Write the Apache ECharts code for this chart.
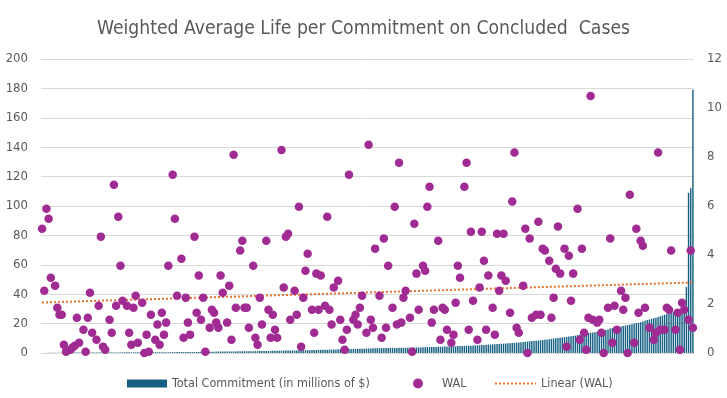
<!DOCTYPE html>
<html>
<head>
<meta charset="utf-8">
<script src="https://cdn.jsdelivr.net/npm/echarts@6/dist/echarts.min.js"></script>
<style>
  html, body { margin: 0; padding: 0; background: #fff; }
  #chart { width: 727px; height: 398px; }
</style>
</head>
<body>
<div id="chart"></div>
<script>
// total commitment per concluded case (millions of $), sorted ascending
const commitment = [
  0.05, 0.06, 0.08, 0.09, 0.1, 0.12, 0.13, 0.15, 0.16, 0.18, 0.2, 0.21, 0.23, 0.25, 0.27,
  0.3, 0.3, 0.31, 0.32, 0.32, 0.33, 0.34, 0.34, 0.35, 0.36, 0.36, 0.37, 0.37, 0.38, 0.39, 0.39,
  0.4, 0.4, 0.41, 0.41, 0.42, 0.42, 0.43, 0.43, 0.44, 0.44, 0.45, 0.45, 0.46, 0.46, 0.47, 0.47,
  0.48, 0.48, 0.49, 0.49, 0.5, 0.5, 0.51, 0.51, 0.52, 0.53, 0.53, 0.54, 0.55, 0.56, 0.58,
  0.6, 0.61, 0.62, 0.63, 0.65, 0.66, 0.68, 0.7, 0.72, 0.74, 0.76, 0.78, 0.8, 0.82, 0.85, 0.88,
  0.9, 0.92, 0.94, 0.96, 0.98, 1.0, 1.0, 1.02, 1.04, 1.06, 1.08, 1.1, 1.12, 1.14, 1.16,
  1.18, 1.2, 1.22, 1.24, 1.26, 1.28, 1.3, 1.32, 1.34, 1.36, 1.39, 1.42, 1.44, 1.47, 1.5,
  1.55, 1.58, 1.6, 1.62, 1.65, 1.68, 1.7, 1.72, 1.75, 1.78, 1.8, 1.83, 1.86, 1.89, 1.92,
  1.95, 1.98, 2.0, 2.04, 2.08, 2.12, 2.16, 2.2, 2.24, 2.27, 2.3,
  2.4, 2.44, 2.48, 2.52, 2.56, 2.6, 2.64, 2.68, 2.72, 2.76, 2.8, 2.84, 2.88, 2.92, 2.96,
  3.0, 3.05, 3.1, 3.15, 3.2,
  3.3, 3.32, 3.34, 3.36, 3.38, 3.4, 3.42, 3.44, 3.46, 3.48, 3.5, 3.52, 3.55, 3.58, 3.6,
  3.63, 3.66, 3.7, 3.74, 3.78, 3.82, 3.86, 3.9, 3.94, 3.97, 4.0,
  4.1, 4.15, 4.2, 4.25, 4.3, 4.35, 4.4, 4.45, 4.5, 4.55, 4.6,
  4.7, 4.75, 4.8, 4.85, 4.9, 4.95, 5.0, 5.05, 5.1, 5.2, 5.3, 5.4, 5.5, 5.6, 5.7, 5.8, 5.9,
  6.0, 6.1, 6.2, 6.3, 6.4, 6.5, 6.6, 6.7, 6.8, 6.9, 7.0, 7.1, 7.25, 7.4, 7.6,
  7.8, 7.95, 8.1, 8.25, 8.4, 8.55, 8.7, 8.85, 9.0, 9.2, 9.4, 9.6,
  9.8, 10.0, 10.2, 10.4, 10.6, 10.8, 11.0, 11.2, 11.4, 11.6, 11.8,
  12.2, 12.5, 12.8, 13.1, 13.4, 13.6, 13.8, 14.0, 14.2, 14.5, 14.8, 15.1, 15.4, 15.7, 16.0,
  16.6, 16.9, 17.2, 17.5, 17.8, 18.1, 18.4, 18.7, 19.0, 19.3, 19.6,
  20.0, 20.3, 20.6, 21.0,
  21.5, 22.0, 22.4, 22.8, 23.2, 23.6, 24.0, 24.5, 25.0, 25.5,
  26.0, 26.5, 27.0, 27.5, 28.0, 28.5, 29.0, 29.5, 30.2, 31.0,
  45, 109, 112, 179
]

// weighted average life (years), same case order; null where no dot can be read
const wal = [
  5.07, 2.54, 5.89, 5.48, 3.07, null, 2.75, 1.85, 1.56, 1.56,
  0.34, 0.05, null, 0.13, 0.22, 0.3, 1.44, 0.42, null, 0.95,
  0.05, 1.44, 2.46, 0.83, null, 0.54, 1.93, 4.75, 0.26, 0.13,
  null, 1.36, 0.83, 6.87, 1.93, 5.56, 3.56, 2.13, null, 1.93,
  0.83, 0.34, 1.85, 2.34, 0.42, null, 2.05, 0, 0.75, 0.05,
  1.56, null, 0.54, 1.16, 0.34, 1.64, 0.75, 1.24, 3.56, null,
  7.28, 5.48, 2.34, null, 3.85, 0.62, 2.26, 1.24, 0.75, null,
  4.75, 1.64, 3.16, 1.36, 2.26, 0.05, null, 1.03, 1.77, 1.64,
  1.24, 1.03, 3.16, 2.46, null, 1.24, 2.75, 0.54, 8.09, 1.85,
  null, 4.18, 4.58, 1.85, 1.85, 1.03, null, 3.56, 0.62, 0.34,
  2.26, 1.16, null, 4.58, 1.77, 0.62, 1.56, 0.95, 0.62, null,
  8.29, 2.67, 4.75, 4.87, 1.36, null, 2.54, 1.56, 5.97, 0.26,
  2.26, 3.36, 4.05, null, 1.77, 0.83, 3.24, 1.77, 3.16, null,
  1.93, 5.56, 1.77, 1.16, 2.67, null, 2.95, 1.36, 0.54, 0.13,
  0.95, 7.28, null, 1.36, 1.56, 1.16, 1.85, 2.34, null, 0.83,
  8.5, 1.36, 1.03, 4.26, null, 2.34, 0.62, 4.67, 1.03, 3.56,
  null, 1.85, 5.97, 1.16, 7.77, 1.24, 2.26, 2.54, null, 1.44,
  0.05, 5.28, 3.24, 1.77, null, 3.56, 3.36, 5.97, 6.79, 1.24,
  1.77, null, 4.58, 0.54, 1.85, 1.77, 0.95, null, 0.42, 0.75,
  2.05, 3.56, 3.07, null, 6.79, 7.77, 0.95, 4.95, 2.13, null,
  0.54, 2.67, 4.95, 3.77, 0.95, 3.16, null, 1.85, 0.75, 4.87,
  2.54, 3.16, 4.87, 2.95, null, 1.64, 6.18, 8.18, 1.03, 0.83,
  null, 2.75, 5.07, 0, 4.67, 1.44, null, 1.56, 5.36, 1.56,
  4.26, 4.18, null, 3.77, 1.44, 2.26, 3.44, 5.16, 3.24, null,
  4.26, 0.26, 3.97, 2.13, 3.24, null, 5.89, 0.54, 4.26, 0.83,
  0.13, 1.44, 10.49, 1.36, null, 1.24, 1.36, 0.83, 0, null,
  1.85, 4.67, 0.42, 1.93, 0.95, null, 2.54, 1.77, 2.26, 0,
  6.46, null, 0.42, 5.07, 1.64, 4.58, 4.38, 1.85, null, 1.03,
  null, 0.54, 0.83, 8.18, 0.95, null, 0.95, 1.85, 1.77, 4.18,
  null, 0.95, 1.64, 0.13, 2.05, 1.77, null, 1.36, 4.18, 1.03
]

// linear trend of WAL at the first and last case
const trendWal = [2.06, 2.88]

const leftTicks = { min: 0, max: 200, interval: 20 }
const rightTicks = { min: 0, max: 12, interval: 2 }

const caseIds = commitment.map((_, i) => i + 1)

const textColor = "#595959"
const font = "'Liberation Sans Narrow', 'DejaVu Sans Condensed', sans-serif"

const chart = echarts.init(document.getElementById("chart"), null, { renderer: "canvas" })

const legendText = { color: textColor, fontSize: 12.5, fontFamily: font }

const option = {
  animation: false,
  backgroundColor: "#ffffff",
  textStyle: { fontFamily: font },
  title: {
    text: "Weighted Average Life per Commitment on Concluded  Cases",
    left: "center",
    top: 15,
    textStyle: { color: textColor, fontSize: 19.2, fontWeight: "normal", fontFamily: font },
  },
  grid: { left: 41, right: 33, top: 59, bottom: 45, containLabel: false, outerBoundsMode: "none" },
  legend: [
    {
      data: ["Total Commitment (in millions of $)"],
      left: 127,
      top: 377,
      padding: 0,
      icon: "rect",
      itemWidth: 40,
      itemHeight: 8,
      textStyle: legendText,
    },
    {
      data: ["WAL"],
      left: 413,
      top: 377,
      padding: 0,
      icon: "circle",
      itemWidth: 10,
      itemHeight: 10,
      textStyle: { ...legendText, padding: [0, 0, 0, 14] },
    },
    {
      data: ["Linear (WAL)"],
      left: 494,
      top: 377,
      padding: 0,
      itemWidth: 41,
      itemHeight: 10,
      itemStyle: { opacity: 0 },
      lineStyle: { color: "#E97132", width: 2, type: [2, 2] },
      textStyle: legendText,
    },
  ],
  xAxis: {
    type: "category",
    data: caseIds,
    axisLine: { lineStyle: { color: "#d9d9d9", width: 1 } },
    axisTick: { show: false },
    axisLabel: { show: false },
    splitLine: { show: false },
  },
  yAxis: [
    {
      type: "value",
      ...leftTicks,
      axisLine: { show: false },
      axisTick: { show: false },
      axisLabel: { color: textColor, fontSize: 13, margin: 13, fontFamily: font },
      splitLine: { lineStyle: { color: "#d9d9d9", width: 1 } },
    },
    {
      type: "value",
      ...rightTicks,
      axisLine: { show: false },
      axisTick: { show: false },
      axisLabel: { color: textColor, fontSize: 13, margin: 13, fontFamily: font },
      splitLine: { show: false },
    },
  ],
  series: [
    {
      name: "Total Commitment (in millions of $)",
      type: "bar",
      yAxisIndex: 0,
      data: commitment,
      barCategoryGap: "35%",
      itemStyle: { color: "#156082" },
      z: 1,
    },
    {
      name: "WAL",
      type: "scatter",
      yAxisIndex: 1,
      data: wal,
      symbol: "circle",
      symbolSize: 8.5,
      itemStyle: { color: "#A02B93", opacity: 1 },
      z: 3,
    },
    {
      name: "Linear (WAL)",
      type: "line",
      yAxisIndex: 1,
      data: [
        [0, trendWal[0]],
        [commitment.length - 1, trendWal[1]],
      ],
      symbol: "none",
      showSymbol: false,
      lineStyle: { color: "#E97132", width: 2, type: [2, 2] },
      itemStyle: { color: "#E97132" },
      z: 2,
    },
  ],
}

chart.setOption(option)
</script>
</body>
</html>
